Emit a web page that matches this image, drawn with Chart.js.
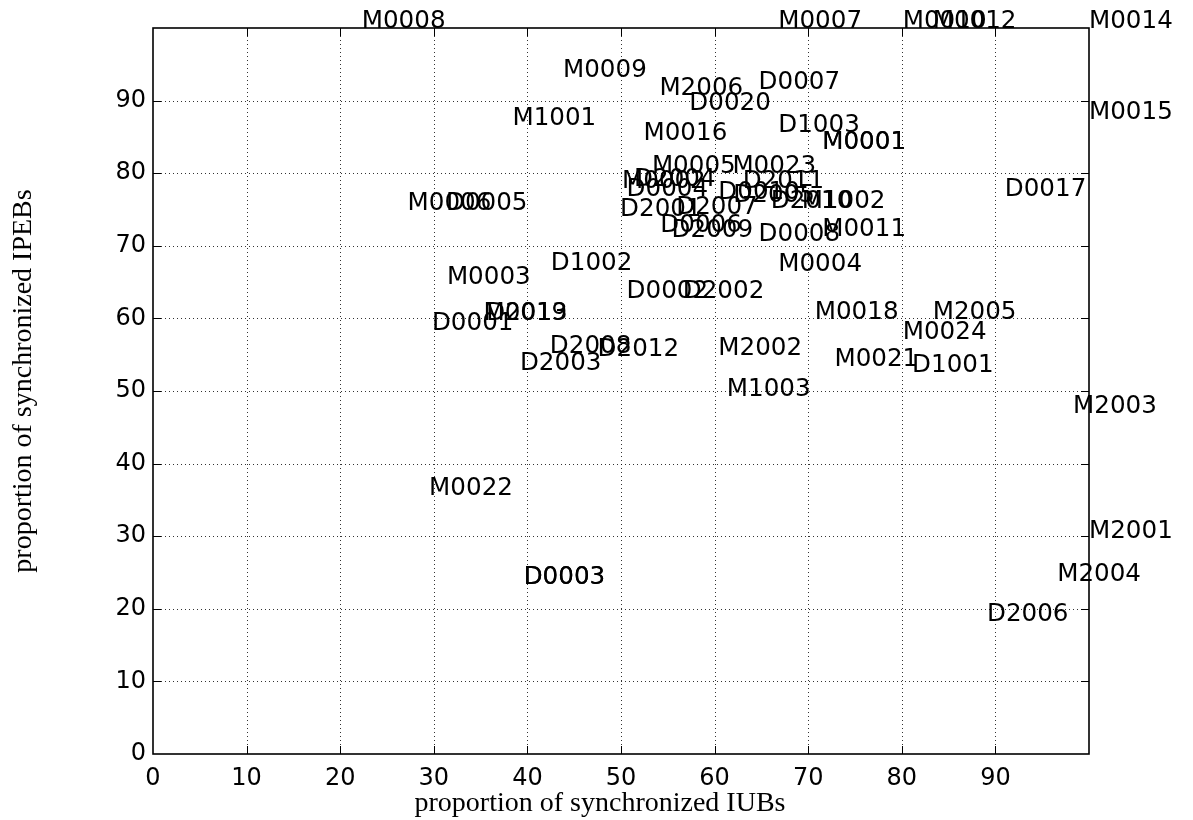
<!DOCTYPE html>
<html><head><meta charset="utf-8">
<script src="https://cdn.jsdelivr.net/npm/chart.js@4"></script>
<style>html,body{margin:0;padding:0;background:#fff;}canvas{display:block;}</style>
</head><body>
<canvas id="c" width="1193" height="820"></canvas>
<script>
const pointNames = ['M0008','M0007','M0010','M0012','M0014','M0009','M2006','D0007','D0020','M0015',
  'M1001','D1003','M0016','M0001','M0001','M0005','M0023','M0002','D2004','D2011',
  'D0004','D0010','D2005','D2010','M1002','D0017','M0006','D0005','D2001','D2007',
  'D0006','D2009','D0008','M0011','M0004','D1002','M0003','D0002','D2002','M0019',
  'D2013','D0001','M0018','M2005','M0024','D2008','D2012','M2002','D2003','M0021',
  'D1001','M1003','M2003','M0022','M2001','D0003','D0003','M2004','D2006'];
const iubValues = [22.3,66.8,80.1,83.3,100,43.8,54.1,64.7,57.3,100,
  38.4,66.8,52.4,71.5,71.5,53.3,61.9,50.1,51.4,63.0,
  50.6,60.4,62.0,66.0,69.3,91.0,27.2,31.3,49.9,55.9,
  54.2,55.4,64.7,71.5,66.8,42.5,31.4,50.6,56.6,35.3,
  35.6,29.8,70.7,83.3,80.1,42.4,47.5,60.4,39.2,72.8,
  81.1,61.3,98.3,29.5,100,39.6,39.6,96.6,89.1];
const ipebValues = [100,100,100,100,100,93.3,90.8,91.6,88.7,87.5,
  86.6,85.7,84.6,83.3,83.3,80.0,80.0,78.0,78.2,78.0,
  76.9,76.4,76.0,75.2,75.2,76.9,74.9,74.9,74.1,74.4,
  71.9,71.2,70.7,71.4,66.5,66.7,64.7,62.8,62.8,59.8,
  59.8,58.4,59.9,59.9,57.2,55.2,54.8,55.0,52.9,53.4,
  52.6,49.3,47.0,35.7,29.8,23.4,23.4,23.8,18.3];
const xTickValues = [0,10,20,30,40,50,60,70,80,90];
const yTickValues = [0,10,20,30,40,50,60,70,80,90];
const xAxisTitle = 'proportion of synchronized IUBs';
const yAxisTitle = 'proportion of synchronized IPEBs';

const points = pointNames.map((n, i) => ({x: iubValues[i], y: ipebValues[i]}));
const labelFont = '24.6px "DejaVu Sans"';
const titleFont = '28px "Liberation Serif"';

const drawPlugin = {
  id: 'drawPlugin',
  beforeDatasetsDraw(chart) {
    const ctx = chart.ctx, a = chart.chartArea;
    const xs = chart.scales.x, ys = chart.scales.y;
    ctx.save();
    ctx.strokeStyle = 'rgba(0,0,0,0.8)';
    ctx.lineWidth = 1;
    ctx.setLineDash([1, 3]);
    xTickValues.forEach(v => {
      if (v === 0) return;
      const px = Math.round(xs.getPixelForValue(v)) + 0.5;
      ctx.beginPath(); ctx.moveTo(px, a.top); ctx.lineTo(px, a.bottom); ctx.stroke();
    });
    yTickValues.forEach(v => {
      if (v === 0) return;
      const py = Math.round(ys.getPixelForValue(v)) + 0.5;
      ctx.beginPath(); ctx.moveTo(a.left, py); ctx.lineTo(a.right, py); ctx.stroke();
    });
    ctx.restore();
  },
  afterDatasetsDraw(chart) {
    const ctx = chart.ctx, a = chart.chartArea;
    const xs = chart.scales.x, ys = chart.scales.y;
    ctx.save();
    ctx.strokeStyle = '#000';
    ctx.lineWidth = 1.6;
    ctx.strokeRect(a.left, a.top, a.right - a.left, a.bottom - a.top);
    ctx.lineWidth = 1;
    const tl = 8;
    xTickValues.forEach(v => {
      if (v === 0) return;
      const px = Math.round(xs.getPixelForValue(v)) + 0.5;
      ctx.beginPath();
      ctx.moveTo(px, a.bottom); ctx.lineTo(px, a.bottom - tl);
      ctx.moveTo(px, a.top); ctx.lineTo(px, a.top + tl);
      ctx.stroke();
    });
    yTickValues.forEach(v => {
      if (v === 0) return;
      const py = Math.round(ys.getPixelForValue(v)) + 0.5;
      ctx.beginPath();
      ctx.moveTo(a.left, py); ctx.lineTo(a.left + tl, py);
      ctx.moveTo(a.right, py); ctx.lineTo(a.right - tl, py);
      ctx.stroke();
    });
    const meta = chart.getDatasetMeta(0);
    ctx.font = labelFont;
    ctx.fillStyle = '#000';
    ctx.textAlign = 'left';
    ctx.textBaseline = 'alphabetic';
    meta.data.forEach((el, i) => {
      ctx.fillText(pointNames[i], el.x, el.y);
    });
    ctx.restore();
  },
  afterDraw(chart) {
    const ctx = chart.ctx;
    ctx.save();
    ctx.font = titleFont;
    ctx.fillStyle = '#000';
    ctx.textAlign = 'center';
    ctx.textBaseline = 'alphabetic';
    ctx.fillText(xAxisTitle, 600, 811);
    ctx.translate(31, 381);
    ctx.rotate(-Math.PI / 2);
    ctx.fillText(yAxisTitle, 0, 0);
    ctx.restore();
  }
};

new Chart(document.getElementById('c'), {
  type: 'scatter',
  data: { datasets: [{ data: points, pointRadius: 0, pointHoverRadius: 0, clip: false }] },
  options: {
    responsive: false,
    animation: false,
    devicePixelRatio: 1,
    events: [],
    layout: { padding: { top: 28, right: 104, left: 0, bottom: 0 } },
    plugins: { legend: { display: false }, tooltip: { enabled: false } },
    scales: {
      x: {
        type: 'linear', min: 0, max: 100,
        afterFit(s) { s.height = 66; },
        grid: { display: false, drawTicks: false },
        border: { display: false },
        afterBuildTicks(s) { s.ticks = xTickValues.map(v => ({ value: v })); },
        ticks: { color: '#000', font: { family: 'DejaVu Sans', size: 24 }, padding: 10, maxRotation: 0, autoSkip: false }
      },
      y: {
        type: 'linear', min: 0, max: 100,
        afterFit(s) { s.width = 153; },
        grid: { display: false, drawTicks: false },
        border: { display: false },
        afterBuildTicks(s) { s.ticks = yTickValues.map(v => ({ value: v })); },
        ticks: { color: '#000', font: { family: 'DejaVu Sans', size: 24 }, padding: 7, autoSkip: false }
      }
    }
  },
  plugins: [drawPlugin]
});
</script>
</body></html>
